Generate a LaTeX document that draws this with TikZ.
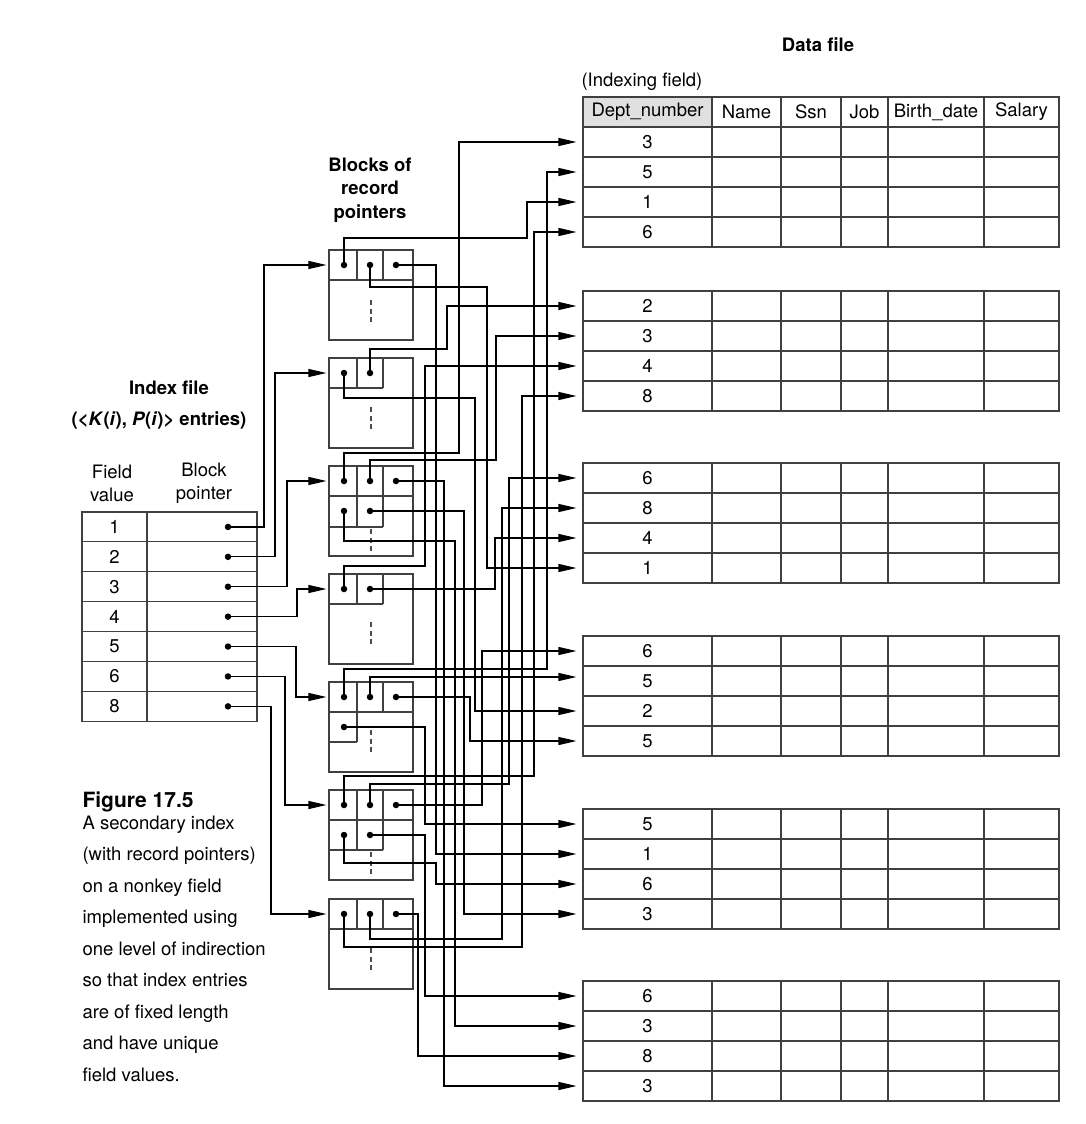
\documentclass[tikz,border=0pt]{standalone}
\usepackage{fontspec}
\setmainfont{TeX Gyre Heros}
\usetikzlibrary{arrows.meta}

\tikzset{
  tabline/.style={draw=black!75, line width=1.1pt},
  dcell/.style={tabline, rectangle, minimum width=129pt, minimum height=30pt, inner sep=0pt},
  icell/.style={tabline, rectangle, minimum height=29.9pt, inner sep=0pt},
  blk/.style={tabline, rectangle, minimum width=84pt, minimum height=90pt, inner sep=0pt},
  dot/.style={circle, fill=black, inner sep=0pt, minimum size=6.5pt},
  dashline/.style={draw=black!70, line width=1.1pt, dash pattern=on 5pt off 3.5pt},
  ptr/.style={draw=black, line width=1.1pt, -{Triangle[length=18pt,width=8pt]}},
  bfont/.style={font=\fontsize{18.5}{23.5}\selectfont\bfseries}
}

\begin{document}
\begin{tikzpicture}[x=1pt,y=-1pt,font=\fontsize{18.5}{22}\selectfont]
\useasboundingbox (0,0) rectangle (1086,1124);

% Titles
\node[bfont] (dftitle) at (818,45) {Data file};
\node[anchor=west] (ixfield) at (578,82) {(Indexing field)};
\node[bfont, align=center] (bptitle) at (370,190) {Blocks of\\record\\pointers};
\node[bfont] (iftitle) at (169,388) {Index file};
\node[bfont] (ifentries) at (159,420) {(<\textit{K}(\textit{i}), \textit{P}(\textit{i})> entries)};
\node[align=center, font=\fontsize{18.5}{23}\selectfont] (fvhead) at (112,483) {Field\\value};
\node[align=center, font=\fontsize{18.5}{23}\selectfont] (bphead) at (204,483) {Block\\pointer};

% Data file: header
\node[dcell, fill=black!12] (h1) at (647.5,112) {Dept\_number};
\foreach \hd/\xa/\xb [count=\k from 2] in {Name/712/781, Ssn/781/841, Job/841/888, Birth\_date/888/984, Salary/984/1059}
  \node[tabline, minimum width={\xb-\xa}, minimum height=30pt, inner sep=0pt] (h\k) at ({(\xa+\xb)/2},112) {\hd};

% Data file: records
\foreach \g/\tp/\va/\vb/\vc/\vd in {1/127/3/5/1/6, 2/291/2/3/4/8, 3/463/6/8/4/1, 4/636/6/5/2/5, 5/809/5/1/6/3, 6/981/6/3/8/3}{
  \foreach \r/\v in {1/\va, 2/\vb, 3/\vc, 4/\vd}{
    \node[dcell] (d\g\r) at (647.5,{\tp+30*\r-15}) {\v};
    \coordinate (t\g\r) at ([xshift=-6pt]d\g\r.west);
    \foreach \xa/\xb in {712/781, 781/841, 841/888, 888/984, 984/1059}
      \draw[tabline] (\xa,{\tp+30*\r-30}) rectangle (\xb,{\tp+30*\r});
  }
}

% Index file
\foreach \v [count=\k] in {1,2,3,4,5,6,8}{
  \node[icell, minimum width=65pt] (f\k) at (114.5,{497.05+29.9*\k}) {\v};
  \node[icell, minimum width=110pt] (q\k) at (202,{497.05+29.9*\k}) {};
  \node[dot] (i\k) at (228,{497.05+29.9*\k}) {};
}

% Blocks of record pointers
\foreach \k/\tp/\n in {1/250/3, 2/358/2, 3/466/3, 4/574/2, 5/682/3, 6/790/3, 7/899/3}{
  \node[blk] (blk\k) at (371,{\tp+45}) {};
  \coordinate (in\k) at ([xshift=-2pt]blk\k.west |- 0,{\tp+15});
  \foreach \c in {1,...,\n}
    \node[dot] (b\k p\c) at ({318+26*\c},{\tp+15}) {};
}
\node[dot] (b3p4) at (344,511) {};
\node[dot] (b3p5) at (370,511) {};
\node[dot] (b5p4) at (344,727) {};
\node[dot] (b6p4) at (344,835) {};
\node[dot] (b6p5) at (370,835) {};

\draw[tabline] (329,280) -- (413,280) (357,250) -- (357,280) (383,250) -- (383,280);
\draw[tabline] (329,388) -- (383,388) (357,358) -- (357,388) (383,358) -- (383,388);
\draw[tabline] (329,496) -- (413,496) (329,527) -- (383,527) (357,466) -- (357,527) (383,466) -- (383,527);
\draw[tabline] (329,604) -- (383,604) (357,574) -- (357,604) (383,574) -- (383,604);
\draw[tabline] (329,712) -- (413,712) (329,742) -- (357,742) (357,682) -- (357,742) (383,682) -- (383,712);
\draw[tabline] (329,820) -- (413,820) (329,850) -- (383,850) (357,790) -- (357,850) (383,790) -- (383,850);
\draw[tabline] (329,929) -- (413,929) (357,899) -- (357,929) (383,899) -- (383,929);
\foreach \ya/\yb in {300/323, 407/431, 529/553, 622/646, 730/755, 852/877, 948/972}
  \draw[dashline] (371,\ya) -- (371,\yb);

% Index entries to blocks
\draw[ptr] (i1) -| (264,0 |- in1) -- (in1);
\draw[ptr] (i2) -| (275,0 |- in2) -- (in2);
\draw[ptr] (i3) -| (287,0 |- in3) -- (in3);
\draw[ptr] (i4) -| (297,0 |- in4) -- (in4);
\draw[ptr] (i5) -| (296,0 |- in5) -- (in5);
\draw[ptr] (i6) -| (285,0 |- in6) -- (in6);
\draw[ptr] (i7) -| (271,0 |- in7) -- (in7);

% Record pointers to data records
\draw[ptr] (b1p1) |- (527,238) |- (t13);
\draw[ptr] (b1p2) |- (487,287) |- (t34);
\draw[ptr] (b1p3) -| (436,0 |- t52) -- (t52);
\draw[ptr] (b2p1) |- (475,398) |- (t43);
\draw[ptr] (b2p2) |- (447,349) |- (t21);
\draw[ptr] (b3p1) |- (459,453) |- (t11);
\draw[ptr] (b3p2) |- (496,460) |- (t22);
\draw[ptr] (b3p3) -| (444,0 |- t64) -- (t64);
\draw[ptr] (b3p4) |- (455,541) |- (t62);
\draw[ptr] (b3p5) -| (464,0 |- t54) -- (t54);
\draw[ptr] (b4p1) |- (425,566) |- (t23);
\draw[ptr] (b4p2) -| (495,0 |- t33) -- (t33);
\draw[ptr] (b5p1) |- (547,669) |- (t12);
\draw[ptr] (b5p2) |- ([yshift=4pt]t42);
\draw[ptr] (b5p3) -| (470,0 |- t44) -- (t44);
\draw[ptr] (b5p4) -| (425,0 |- t51) -- (t51);
\draw[ptr] (b6p1) |- (534,776) |- (t14);
\draw[ptr] (b6p2) |- (509,784) |- (t31);
\draw[ptr] (b6p3) -| (482,0 |- t41) -- (t41);
\draw[ptr] (b6p4) |- (436,863) |- (t53);
\draw[ptr] (b6p5) -| (425,0 |- t61) -- (t61);
\draw[ptr] (b7p1) |- (522,947) |- (t24);
\draw[ptr] (b7p2) |- (502,939) |- (t32);
\draw[ptr] (b7p3) -| (418,0 |- t63) -- (t63);

% Caption
\node[anchor=north west, font=\fontsize{21}{24}\selectfont\bfseries] (fignum) at (79,788) {Figure 17.5};
\node[anchor=north west, align=left, font=\fontsize{18.5}{31.5}\selectfont] (figtext) at (79,812)
  {A secondary index\\(with record pointers)\\on a nonkey field\\implemented using\\one level of indirection\\so that index entries\\are of fixed length\\and have unique\\field values.};
\end{tikzpicture}
\end{document}
